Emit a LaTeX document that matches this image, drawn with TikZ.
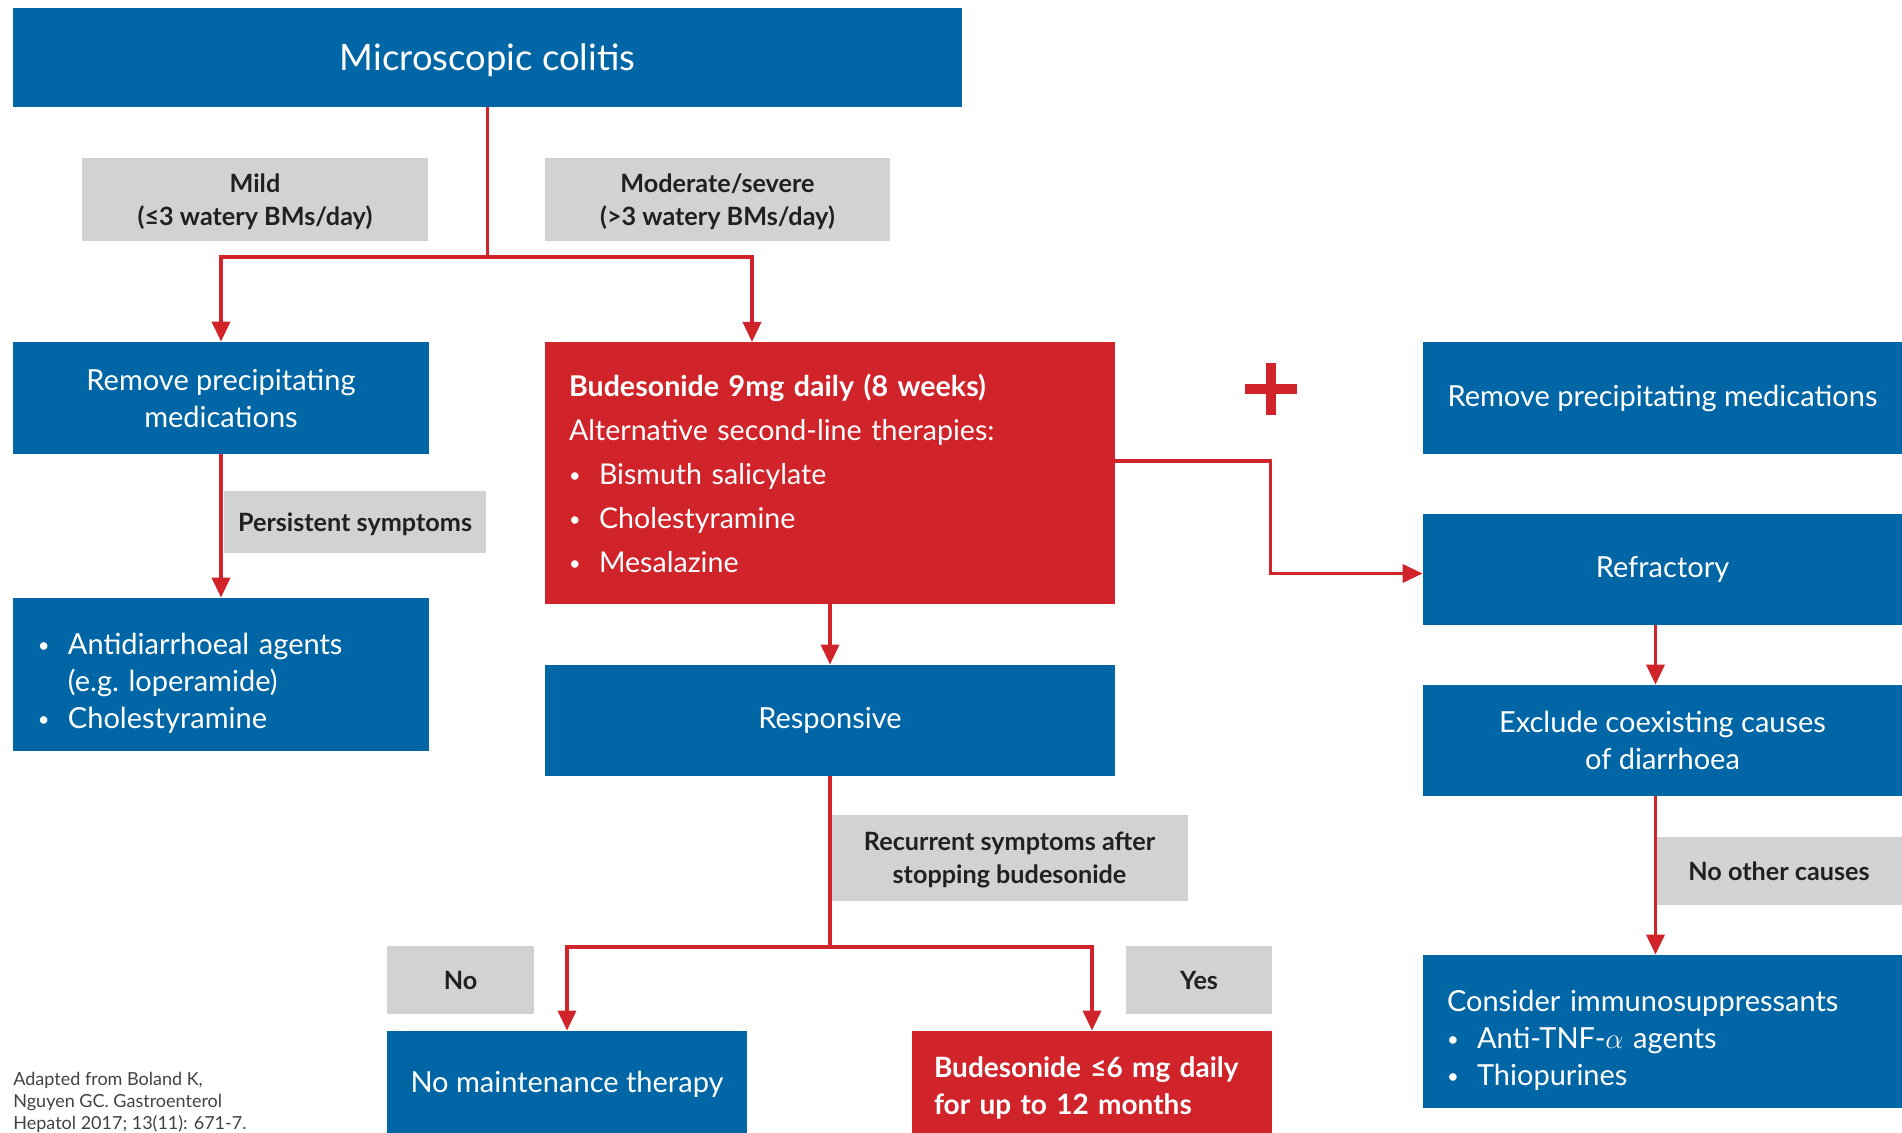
\documentclass[tikz,border=0pt]{standalone}
\usepackage{fontspec}
\setmainfont{Lato}
\usetikzlibrary{arrows.meta}

\definecolor{mcblue}{RGB}{0,102,166}
\definecolor{mcred}{RGB}{208,35,42}
\definecolor{mcgrey}{RGB}{209,210,212}
\definecolor{mcdark}{RGB}{35,31,32}

\newcommand{\itm}[1]{\makebox[15pt][l]{\raisebox{0.6pt}{\scalebox{0.7}{\textbullet}}}#1}

\begin{document}
\begin{tikzpicture}[x=0.5pt, y=-0.5pt, >={Triangle[length=10pt,width=9pt]},
  box/.style={fill=mcblue, text=white, inner sep=0pt, align=center,
    font=\fontsize{14.5}{18.5}\selectfont},
  redbox/.style={box, fill=mcred},
  tag/.style={fill=mcgrey, text=mcdark, inner sep=0pt, align=center, text depth=-3pt,
    font=\bfseries\fontsize{12.6}{16.5}\selectfont},
  link/.style={mcred, line width=1.8pt}]

\useasboundingbox (0,0) rectangle (1902,1133);

% left and middle column
\node[box, minimum width=474.5pt, minimum height=49.5pt, text depth=-2pt, font=\fontsize{18.2}{21}\selectfont] (colitis) at (487.5,57.5) {Microscopic colitis};
\coordinate (split) at (487.5,257);
\coordinate (budin) at (752,342);

\node[tag, minimum width=173pt, minimum height=41.5pt] (mild) at (255,199.5) {Mild\\(≤3 watery BMs/day)};
\node[tag, minimum width=172.5pt, minimum height=41.5pt] (modsev) at (717.5,199.5) {Moderate/severe\\(>3 watery BMs/day)};

\node[box, minimum width=208pt, minimum height=56pt, text depth=-3pt] (removeL) at (221,398) {Remove precipitating\\medications};
\node[redbox, text width=261pt, inner xsep=12pt, minimum height=131pt, align=left, font=\fontsize{14.3}{22}\selectfont] (bud) at (830,473)
  {\textbf{Budesonide 9mg daily (8 weeks)}\\Alternative second-line therapies:\\\itm{Bismuth salicylate}\\\itm{Cholestyramine}\\\itm{Mesalazine}};

\node[tag, minimum width=131pt, minimum height=31pt] (persist) at (355,522) {Persistent symptoms};
\node[box, text width=183pt, inner xsep=12.5pt, minimum height=76.5pt, text depth=31pt, align=left] (antid) at (221,674.5)
  {\itm{Antidiarrhoeal agents}\\\hspace*{15pt}(e.g.\ loperamide)\\\itm{Cholestyramine}};

\node[box, minimum width=285pt, minimum height=55.5pt] (resp) at (830,720.5) {Responsive};
\node[tag, minimum width=178.5pt, minimum height=43pt] (recur) at (1009.5,858) {Recurrent symptoms after\\stopping budesonide};
\coordinate (fork) at (830,947);
\node[tag, minimum width=73.5pt, minimum height=34pt, text depth=0pt] (no) at (460.5,980) {No};
\node[tag, minimum width=73pt, minimum height=34pt, text depth=0pt] (yes) at (1199,980) {Yes};
\node[box, minimum width=180pt, minimum height=51pt, text depth=-5pt] (nomaint) at (567,1082) {No maintenance therapy};
\node[redbox, text width=158pt, inner xsep=11pt, minimum height=51pt, text depth=15pt, align=left, font=\bfseries\fontsize{14}{18.5}\selectfont] (budlow) at (1092,1082)
  {Budesonide ≤6 mg daily\\for up to 12 months};

% right column
\draw[mcred, line width=5pt] (1245,389) -- (1297,389) (1271,363) -- (1271,415);
\node[box, minimum width=239.5pt, minimum height=56pt] (removeR) at (1662.5,398) {Remove precipitating medications};
\node[box, minimum width=239.5pt, minimum height=55.5pt] (refr) at (1662.5,569.5) {Refractory};
\node[box, minimum width=239.5pt, minimum height=55.5pt, text depth=-4pt] (exclude) at (1662.5,740.5) {Exclude coexisting causes\\of diarrhoea};
\node[tag, minimum width=123pt, minimum height=34pt] (noother) at (1779,871) {No other causes};
\node[box, text width=215.5pt, inner xsep=12pt, minimum height=76.5pt, text depth=31pt, align=left] (consider) at (1662.5,1031.5)
  {Consider immunosuppressants\\\itm{Anti-TNF-$\alpha$ agents}\\\itm{Thiopurines}};

\node[anchor=north west, align=left, inner sep=0pt, text=mcdark!85, font=\fontsize{9}{11}\selectfont] (source) at (13,1072)
  {Adapted from Boland K,\\Nguyen GC. Gastroenterol\\Hepatol 2017; 13(11): 671-7.};

% connectors
\draw[link] (colitis.south) -- (split);
\draw[link,->] (split) -| (removeL.north);
\draw[link,->] (split) -| (budin);
\draw[link,->] (removeL) -- (antid);
\draw[link,->] (bud) -- (resp);
\draw[link,->] ([yshift=6pt]bud.east) -- ++(155,0) |- ([yshift=-2pt]refr.west);
\draw[link] (resp) -- (fork);
\draw[link,->] (fork) -| (nomaint.north);
\draw[link,->] (fork) -| (budlow.north);
\draw[link,->] ([xshift=-3.5pt]refr.south) -- ([xshift=-3.5pt]exclude.north);
\draw[link,->] ([xshift=-3.5pt]exclude.south) -- ([xshift=-3.5pt]consider.north);

\end{tikzpicture}
\end{document}
